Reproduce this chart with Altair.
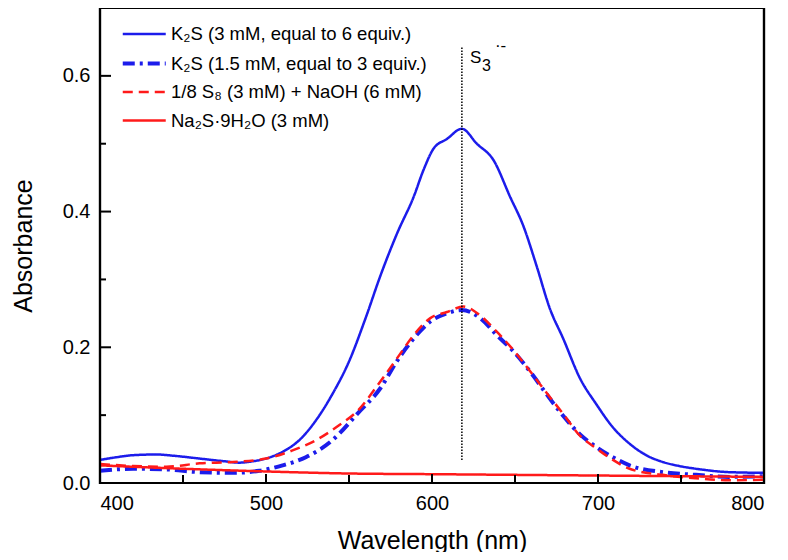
import altair as alt
import pandas as pd

# ---------------- data ----------------
series_names = [
    "K₂S (3 mM, equal to 6 equiv.)",
    "K₂S (1.5 mM, equal to 3 equiv.)",
    "1/8 S₈ (3 mM) + NaOH (6 mM)",
    "Na₂S·9H₂O (3 mM)",
]

bs_wl = [400, 410, 420, 434, 445, 460, 475, 484, 492, 500, 510, 520, 530, 540, 550, 560, 569, 579,
         589, 595, 601, 609, 618, 627, 637, 647, 655, 663, 671, 679, 689, 699, 709, 719, 729, 739,
         749, 759, 779, 800]
bs_abs = [0.034, 0.038, 0.041, 0.042, 0.040, 0.036, 0.032, 0.030, 0.032, 0.036, 0.046, 0.063, 0.092,
          0.131, 0.179, 0.243, 0.306, 0.368, 0.422, 0.462, 0.493, 0.507, 0.522, 0.500, 0.476, 0.422,
          0.379, 0.320, 0.257, 0.213, 0.155, 0.116, 0.082, 0.058, 0.041, 0.031, 0.025, 0.021, 0.016,
          0.015]

bd_wl = [400, 420, 440, 460, 480, 496, 510, 524, 540, 555, 569, 579, 589, 599, 609, 618, 629, 639,
         649, 661, 669, 679, 689, 699, 709, 719, 739, 759, 779, 800]
bd_abs = [0.018, 0.021, 0.020, 0.016, 0.015, 0.018, 0.026, 0.038, 0.063, 0.102, 0.140, 0.180, 0.213,
          0.238, 0.250, 0.255, 0.243, 0.218, 0.194, 0.158, 0.131, 0.099, 0.072, 0.053, 0.038, 0.026,
          0.016, 0.012, 0.009, 0.010]

rd_wl = [400, 420, 440, 460, 480, 500, 516, 530, 544, 555, 569, 579, 589, 599, 609, 619, 629, 639,
         649, 659, 669, 679, 689, 699, 709, 719, 739, 759, 779, 800]
rd_abs = [0.028, 0.025, 0.024, 0.029, 0.031, 0.036, 0.048, 0.063, 0.085, 0.106, 0.150, 0.184, 0.218,
          0.243, 0.252, 0.260, 0.247, 0.223, 0.196, 0.165, 0.133, 0.102, 0.070, 0.051, 0.034, 0.021,
          0.012, 0.007, 0.004, 0.005]

rs_wl = [400, 450, 500, 550, 600, 650, 700, 750, 800]
rs_abs = [0.026, 0.021, 0.017, 0.014, 0.013, 0.012, 0.011, 0.010, 0.009]

x_major = [400, 500, 600, 700, 800]
x_minor = [450, 550, 650, 750]
y_major = [0.0, 0.2, 0.4, 0.6]
y_minor = [0.1, 0.3, 0.5]

marker_wl = [618]
marker_lo = [0.034]
marker_hi = [0.642]

# ---------------- tables ----------------
frames = []
for name, wl, ab in zip(series_names, [bs_wl, bd_wl, rd_wl, rs_wl], [bs_abs, bd_abs, rd_abs, rs_abs]):
    frames.append(pd.DataFrame({"wl": wl, "A": ab, "series": name}))
df = pd.concat(frames, ignore_index=True)

W, H = 664, 475
FONT = "Liberation Sans"
BLUE = "#1c1ceb"
RED = "#ff1a1a"
INK = "#000000"

xscale = alt.Scale(domain=[400, 800], nice=False, zero=False)
yscale = alt.Scale(domain=[0, 0.7], nice=False, zero=False)
xaxis = alt.Axis(values=x_major, format="d", title="Wavelength (nm)", grid=False, ticks=False,
                 tickSize=0, domain=False, labelFont=FONT, labelFontSize=20, labelPadding=10,
                 labelColor="black", titleFont=FONT, titleFontSize=25, titleFontWeight="normal",
                 titleColor="black", titleY=57, titleBaseline="middle")
yaxis = alt.Axis(values=y_major, format=".1f", title="Absorbance", grid=False, ticks=False,
                 tickSize=0, domain=False, labelFont=FONT, labelFontSize=20, labelPadding=10,
                 labelColor="black", titleFont=FONT, titleFontSize=25, titleFontWeight="normal",
                 titleColor="black", titleX=-77, titleBaseline="middle")

lines = alt.Chart(df).mark_line(interpolate="monotone", strokeCap="butt").encode(
    x=alt.X("wl:Q", scale=xscale, axis=xaxis),
    y=alt.Y("A:Q", scale=yscale, axis=yaxis),
    color=alt.Color("series:N", scale=alt.Scale(domain=series_names, range=[BLUE, BLUE, RED, RED]),
                    legend=alt.Legend(title=None, orient="none", legendX=42, legendY=14,
                                      symbolType="M-3,0H1", symbolSize=462, labelFont=FONT,
                                      labelFontSize=18.5, labelLimit=0, rowPadding=6.5,
                                      labelOffset=3, labelColor="black")),
    strokeDash=alt.StrokeDash("series:N", scale=alt.Scale(domain=series_names,
                                                          range=[[1, 0], [12, 5, 3, 5], [10, 6], [1, 0]])),
    strokeWidth=alt.StrokeWidth("series:N", scale=alt.Scale(type="ordinal", domain=series_names,
                                                            range=[2.5, 4, 2.5, 2.5])),
    order=alt.Order("series:N"),
)

# plot frame as a stroked rectangle
frame = alt.Chart(pd.DataFrame({"k": [0]})).mark_rect(
    fill="transparent", stroke=INK, strokeWidth=2.2, strokeOpacity=1).encode(
    x=alt.value(0), x2=alt.value(W), y=alt.value(0), y2=alt.value(H))

xmaj = alt.Chart(pd.DataFrame({"wl": x_major})).mark_rule(color=INK, strokeWidth=2).encode(
    x=alt.X("wl:Q", scale=xscale, axis=xaxis), y=alt.value(H), y2=alt.value(H - 9))
xmin = alt.Chart(pd.DataFrame({"wl": x_minor})).mark_rule(color=INK, strokeWidth=2).encode(
    x=alt.X("wl:Q", scale=xscale, axis=xaxis), y=alt.value(H), y2=alt.value(H - 8))
ymaj = alt.Chart(pd.DataFrame({"A": y_major})).mark_rule(color=INK, strokeWidth=2).encode(
    y=alt.Y("A:Q", scale=yscale, axis=yaxis), x=alt.value(0), x2=alt.value(11))
ymin = alt.Chart(pd.DataFrame({"A": y_minor})).mark_rule(color=INK, strokeWidth=2).encode(
    y=alt.Y("A:Q", scale=yscale, axis=yaxis), x=alt.value(0), x2=alt.value(6))

mk = pd.DataFrame({"wl": marker_wl, "A": marker_lo, "A2": marker_hi})
marker = alt.Chart(mk).mark_rule(color=INK, strokeWidth=1.5, strokeDash=[1.5, 1.5]).encode(
    x=alt.X("wl:Q", scale=xscale, axis=xaxis),
    y=alt.Y("A:Q", scale=yscale, axis=yaxis), y2="A2:Q")

lab_s = alt.Chart(mk).mark_text(text="S", font=FONT, fontSize=17, align="left",
                                baseline="alphabetic", dx=8, dy=16, color="black").encode(
    x=alt.X("wl:Q", scale=xscale, axis=xaxis), y=alt.Y("A2:Q", scale=yscale, axis=yaxis))
lab_3 = alt.Chart(mk).mark_text(text="3", font=FONT, fontSize=16, align="left",
                                baseline="alphabetic", dx=20, dy=24, color="black").encode(
    x=alt.X("wl:Q", scale=xscale, axis=xaxis), y=alt.Y("A2:Q", scale=yscale, axis=yaxis))
lab_r = alt.Chart(mk).mark_text(text="·-", font=FONT, fontSize=17, align="left",
                                baseline="alphabetic", dx=33, dy=4, color="black").encode(
    x=alt.X("wl:Q", scale=xscale, axis=xaxis), y=alt.Y("A2:Q", scale=yscale, axis=yaxis))

chart = alt.layer(lines, marker, lab_s, lab_3, lab_r, xmaj, xmin, ymaj, ymin, frame).properties(
    width=W, height=H, autosize="none", background="white",
    padding={"left": 92, "top": 0, "right": 16, "bottom": 69},
).configure_view(stroke=INK, strokeWidth=2.2)

chart.save("out.html", embed_options={"renderer": "svg", "actions": False})
